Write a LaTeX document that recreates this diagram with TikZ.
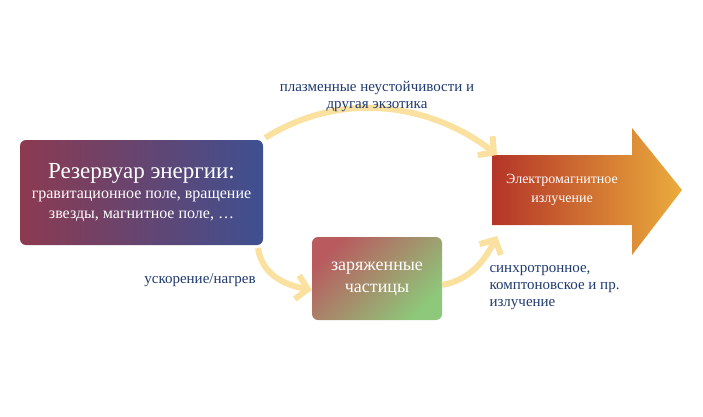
\documentclass[tikz,border=0pt]{standalone}
\usepackage{fontspec}
\setmainfont{Liberation Serif}
\usetikzlibrary{arrows.meta}
\definecolor{txtblue}{HTML}{1F3A6E}
\definecolor{pale}{HTML}{FBE1A0}
\begin{document}
\begin{tikzpicture}[x=1pt,y=-1pt,
  flow/.style={draw=pale,line width=6pt,-{Straight Barb[length=11pt,width=24pt,line width=6pt]}},
  lbl/.style={text=txtblue,font=\fontsize{15}{17}\selectfont,align=left},
  boxtxt/.style={text=white,align=center}]
\useasboundingbox (0,0) rectangle (703,416);
\node[rounded corners=6pt,minimum width=243pt,minimum height=105pt,
  left color={rgb,255:red,140;green,58;blue,80},right color={rgb,255:red,62;green,80;blue,145},
  boxtxt,font=\fontsize{16}{20}\selectfont] (res) at (141.5,192.5) {{\fontsize{23}{26}\selectfont Резервуар энергии:}\\гравитационное поле, вращение\\звезды, магнитное поле, \dots};
\node[rounded corners=6pt,minimum width=130pt,minimum height=83pt,
  top color={rgb,255:red,185;green,90;blue,95},bottom color={rgb,255:red,142;green,200;blue,122},shading angle=45,
  boxtxt,font=\fontsize{18}{22}\selectfont] (ch) at (377,278.5) {заряженные\\частицы};
\shade[left color={rgb,255:red,180;green,52;blue,40},right color={rgb,255:red,235;green,172;blue,60}]
  (492,155) -- (632,155) -- (632,128) -- (682,190) -- (632,255) -- (632,225) -- (492,225) -- cycle;
\node[boxtxt,font=\fontsize{14}{19}\selectfont] (em) at (562,190) {Электромагнитное\\излучение};
\coordinate (emtop) at (497,155);
\coordinate (embot) at (497,236);
\draw[flow] (res.north east) ++(2,-2) .. controls (350,85) and (440,110) .. (emtop);
\draw[flow] (258,248) .. controls (262,275) and (285,285) .. (ch.west |- 0,290);
\draw[flow] (ch.east |- 0,285) .. controls (470,280) and (485,260) .. (embot);
\node[lbl,align=center] (t1) at (377,96) {плазменные неустойчивости и\\другая экзотика};
\node[lbl] (t2) at (200,280) {ускорение/нагрев};
\node[lbl,anchor=north west] (t3) at (486,262) {синхротронное,\\комптоновское и пр.\\излучение};
\end{tikzpicture}
\end{document}
